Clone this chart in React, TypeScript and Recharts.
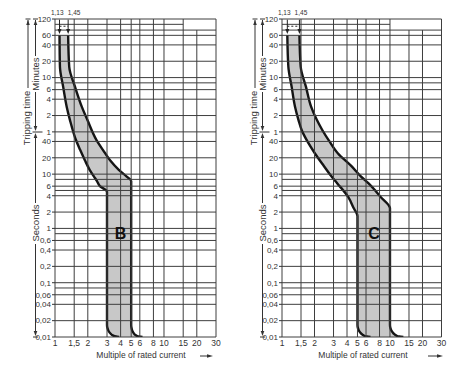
import React from 'react';
import { ComposedChart, Area, XAxis, YAxis, ReferenceLine, ReferenceDot } from 'recharts';

// multiples of rated current (x) and tripping time in seconds (y)
const currentTicks = [1, 1.5, 2, 3, 4, 5, 6, 8, 10, 15, 20, 30];
const timeTicks = [7200, 3600, 2400, 1200, 600, 360, 240, 120, 60, 40, 20, 10, 6, 4, 2, 1, 0.6, 0.4, 0.2, 0.1, 0.06, 0.04, 0.02, 0.01];
const timeGrid = [7200, 4500, 3600, 2400, 1200, 600, 480, 360, 240, 120, 60, 40, 20, 10, 8, 6, 5, 4, 2, 1, 0.8, 0.6, 0.4, 0.2, 0.1, 0.08, 0.06, 0.04, 0.02, 0.01];
const topMarks = [1.13, 1.45];

// B curve
const timesB = [3600, 950, 400, 175, 100, 42, 28, 18, 12, 9, 7.5, 6, 4.75, 1, 0.1, 0.0167, 0.0146, 0.0129, 0.0116, 0.0107, 0.0102, 0.01];
const bLow = [1.1, 1.11, 1.19, 1.28, 1.37, 1.56, 1.7, 1.88, 2.08, 2.28, 2.42, 2.58, 3, 3, 3, 3, 3.03, 3.1, 3.23, 3.39, 3.63, 3.87];
const bHigh = [1.32, 1.35, 1.53, 1.76, 1.98, 2.41, 2.75, 3.2, 3.85, 4.55, 5, 5, 5, 5, 5, 5, 5.04, 5.13, 5.3, 5.55, 5.9, 6.35];

// C curve
const timesC = [3600, 950, 400, 175, 100, 65, 40, 24, 14, 9, 6.8, 3.8, 2.35, 1.7, 1, 0.1, 0.0167, 0.0146, 0.0129, 0.0116, 0.0107, 0.0102, 0.01];
const cLow = [1.12, 1.145, 1.23, 1.32, 1.42, 1.52, 1.72, 2.02, 2.45, 2.88, 3.24, 4.1, 4.62, 5, 5, 5, 5, 5.05, 5.17, 5.4, 5.7, 6.1, 6.6];
const cHigh = [1.45, 1.49, 1.67, 1.86, 2.1, 2.36, 2.75, 3.3, 4.4, 5.4, 6.3, 8.2, 10, 10, 10, 10, 10, 10.1, 10.35, 10.8, 11.4, 12.2, 13.3];

const FONT = "'Liberation Sans', Arial, sans-serif";
const GRID = '#3e3e3e';
const INK = '#333';

const fmtCurrent = (v: number) => String(v).replace('.', ',');
const fmtTime = (v: number) => (v >= 60 ? String(v / 60) : String(v).replace('.', ','));

const DownArrow = (props: any) => {
  const { x1, y1, x2, y2 } = props;
  return (
    <g>
      <line x1={x1} y1={y1} x2={x2} y2={y2 - 3} stroke="#222" strokeWidth={1} />
      <path d={`M${x2 - 2},${y2 - 5}L${x2 + 2},${y2 - 5}L${x2},${y2}Z`} fill="#222" />
    </g>
  );
};

// small labels above the frame, nudged apart so they do not touch
const TopTick = (props: any) => {
  const { x, y, payload } = props;
  const dx = payload.value < 1.3 ? -3.5 : 1.5;
  return (
    <text x={x + dx} y={y} textAnchor="middle" fontSize={6.5} fill={INK} fontFamily={FONT}>
      {fmtCurrent(payload.value)}
    </text>
  );
};

interface TripChartProps {
  times: number[];
  low: number[];
  high: number[];
  letter: string;
  letterX: number;
  width: number;
  right: number;
  shortTo: number;
  partialX: number[];
}

const TripChart: React.FC<TripChartProps> = ({ times, low, high, letter, letterX, width, right, shortTo, partialX }) => {
  const data = times.map((t, i) => ({ t, band: [low[i], high[i]] }));
  const fullX = currentTicks.filter((v) => !partialX.includes(v));
  return (
    <ComposedChart width={width} height={366} layout="vertical" data={data} margin={{ top: 0, right, bottom: 0, left: 0 }}>
      <XAxis
        xAxisId="top"
        orientation="top"
        type="number"
        scale="log"
        domain={[1, 30]}
        allowDataOverflow
        ticks={topMarks}
        height={19}
        axisLine={false}
        tickLine={false}
        tickSize={0}
        tickMargin={4}
        interval={0}
        tick={<TopTick />}
      />
      <XAxis
        type="number"
        scale="log"
        domain={[1, 30]}
        allowDataOverflow
        ticks={currentTicks}
        tickFormatter={fmtCurrent}
        height={29}
        axisLine={false}
        tickLine={false}
        tickSize={0}
        tickMargin={3}
        interval={0}
        tick={{ fontSize: 8.5, fill: INK, fontFamily: FONT }}
      />
      <YAxis
        type="number"
        dataKey="t"
        scale="log"
        domain={[0.01, 7200]}
        allowDataOverflow
        reversed
        ticks={timeTicks}
        tickFormatter={fmtTime}
        width={55}
        axisLine={false}
        tickSize={3}
        tickMargin={1}
        tickLine={{ stroke: INK }}
        interval={0}
        tick={{ fontSize: 8, fill: INK, fontFamily: FONT }}
      />
      {timeGrid.map((t) => (
        <ReferenceLine key={`h${t}`} y={t} stroke={GRID} strokeWidth={1} />
      ))}
      <ReferenceLine segment={[{ x: 1, y: 5740 }, { x: shortTo, y: 5740 }]} stroke={GRID} strokeWidth={1} />
      {fullX.map((v) => (
        <ReferenceLine key={`v${v}`} x={v} stroke={GRID} strokeWidth={1} />
      ))}
      {partialX.map((v) => (
        <ReferenceLine key={`p${v}`} segment={[{ x: v, y: 4500 }, { x: v, y: 0.01 }]} stroke={GRID} strokeWidth={1} />
      ))}
      <Area
        dataKey="band"
        type="monotone"
        fill="#c8c8c8"
        fillOpacity={1}
        stroke="#151515"
        strokeWidth={2.4}
        dot={false}
        activeDot={false}
        isAnimationActive={false}
      />
      <ReferenceLine segment={[{ x: low[0], y: 7000 }, { x: low[0], y: 3800 }]} shape={DownArrow} />
      <ReferenceLine segment={[{ x: high[0], y: 7000 }, { x: high[0], y: 3800 }]} shape={DownArrow} />
      <ReferenceLine segment={[{ x: low[0], y: 5300 }, { x: high[0], y: 5300 }]} stroke="#222" strokeDasharray="2 2" />
      <ReferenceDot
        x={letterX}
        y={0.82}
        r={0}
        fill="none"
        stroke="none"
        label={{ value: letter, position: 'center', fontSize: 16, fontWeight: 700, fill: '#111', fontFamily: FONT }}
      />
    </ComposedChart>
  );
};

const Head = ({ x, y, dir }: { x: number; y: number; dir: 'up' | 'down' | 'right' }) => {
  const d =
    dir === 'up'
      ? `M${x},${y}L${x - 1.8},${y + 5}L${x + 1.8},${y + 5}Z`
      : dir === 'down'
      ? `M${x},${y}L${x - 1.8},${y - 5}L${x + 1.8},${y - 5}Z`
      : `M${x},${y}L${x - 6},${y - 1.8}L${x - 6},${y + 1.8}Z`;
  return <path d={d} fill="#333" stroke="none" />;
};

const Decor = ({ ox, titleX, arrowFrom, arrowTo }: { ox: number; titleX: number; arrowFrom: number; arrowTo: number }) => {
  const a = ox + 28;
  const b = ox + 35.5;
  const txt = { fontFamily: FONT, fill: INK, textAnchor: 'middle' as const, dominantBaseline: 'central' as const };
  return (
    <g>
      <g stroke="#333" strokeWidth={1}>
        <line x1={a} y1={20} x2={a} y2={88} />
        <line x1={a - 2.5} y1={19} x2={a + 2.5} y2={19} />
        <line x1={b} y1={20} x2={b} y2={56} />
        <line x1={b - 2.5} y1={19} x2={b + 2.5} y2={19} />
        <line x1={b} y1={92} x2={b} y2={128} />
        <line x1={b - 3} y1={132} x2={b + 7} y2={132} />
        <line x1={b} y1={136} x2={b} y2={203} />
        <line x1={b} y1={244} x2={b} y2={333} />
        <line x1={b - 2.5} y1={337} x2={b + 2.5} y2={337} />
        <line x1={arrowFrom} y1={356} x2={arrowTo - 4} y2={356} />
      </g>
      <Head x={a} y={20} dir="up" />
      <Head x={b} y={20} dir="up" />
      <Head x={b} y={131} dir="down" />
      <Head x={b} y={133} dir="up" />
      <Head x={b} y={336} dir="down" />
      <Head x={arrowTo} y={356} dir="right" />
      <text x={a - 2} y={118} fontSize={9.5} transform={`rotate(-90 ${a - 2} 118)`} {...txt}>Tripping time</text>
      <text x={b} y={74} fontSize={9.5} transform={`rotate(-90 ${b} 74)`} {...txt}>Minutes</text>
      <text x={b} y={223} fontSize={9.5} transform={`rotate(-90 ${b} 223)`} {...txt}>Seconds</text>
      <text x={titleX} y={355} fontSize={8.5} {...txt}>Multiple of rated current</text>
    </g>
  );
};

export default function App() {
  return (
    <div style={{ position: 'absolute', left: 0, top: 0, width: 474, height: 366, background: '#fff', overflow: 'hidden' }}>
      <div style={{ position: 'absolute', left: 0, top: 0 }}>
        <TripChart times={timesB} low={bLow} high={bHigh} letter="B" letterX={4} width={240} right={24} shortTo={15} partialX={[20]} />
      </div>
      <div style={{ position: 'absolute', left: 227, top: 0 }}>
        <TripChart times={timesC} low={cLow} high={cHigh} letter="C" letterX={7.1} width={247} right={32.5} shortTo={10} partialX={[15, 20]} />
      </div>
      <svg width={474} height={366} style={{ position: 'absolute', left: 0, top: 0, pointerEvents: 'none' }}>
        <Decor ox={0} titleX={141} arrowFrom={200} arrowTo={213} />
        <Decor ox={227} titleX={363} arrowFrom={428} arrowTo={443} />
      </svg>
    </div>
  );
}
